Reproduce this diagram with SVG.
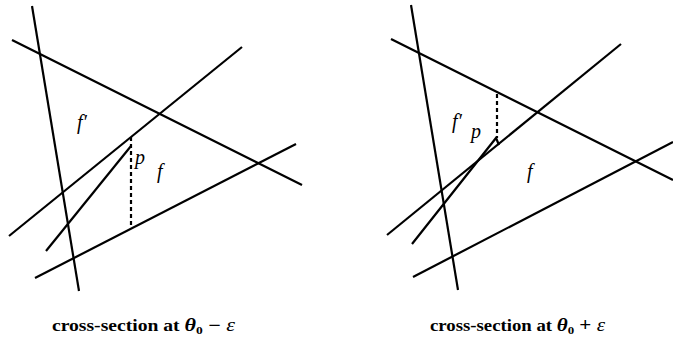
<svg xmlns="http://www.w3.org/2000/svg" width="673" height="345" viewBox="0 0 673 345">
<style>
.ln{stroke:#000;stroke-width:2.2;fill:none;stroke-linecap:butt}
.ds{stroke:#000;stroke-width:2.2;fill:none;stroke-dasharray:4 3}
.lb{font-family:"Liberation Serif",serif;font-style:italic;font-size:20px;fill:#000}
.cap{font-family:"Liberation Serif",serif;font-weight:bold;font-size:16px;fill:#000}
</style>
<rect width="673" height="345" fill="#fff"/>
<g id="connectors">
<g id="left-lines">
<line class="ln" x1="32" y1="6" x2="79" y2="291"/>
<line class="ln" x1="12" y1="40" x2="302" y2="185"/>
<line class="ln" x1="9" y1="236" x2="242" y2="47"/>
<line class="ln" x1="35" y1="278" x2="296" y2="144"/>
<line class="ln" x1="46" y1="251" x2="131" y2="146"/>
<line class="ds" x1="131" y1="137" x2="131" y2="228"/>
</g>
<g id="right-lines">
<line class="ln" x1="411" y1="5" x2="458" y2="290"/>
<line class="ln" x1="391" y1="39" x2="673" y2="180"/>
<line class="ln" x1="387" y1="235" x2="621" y2="44"/>
<line class="ln" x1="413" y1="277" x2="673" y2="142"/>
<polyline class="ln" points="412,244 496,138 499,145"/>
<line class="ds" x1="497" y1="94" x2="497" y2="138"/>
</g>
</g>
<g id="left-labels">
<text class="lb" x="77" y="129">f′</text>
<text class="lb" x="135" y="164">p</text>
<text class="lb" x="157" y="178">f</text>
</g>
<g id="right-labels">
<text class="lb" x="452" y="128">f′</text>
<text class="lb" x="471" y="138">p</text>
<text class="lb" x="527" y="178">f</text>
</g>
<g id="captions">
<text class="cap" x="52" y="331" textLength="183" lengthAdjust="spacingAndGlyphs">cross-section at <tspan font-style="italic" font-size="18">θ</tspan><tspan font-size="11" dy="3">0</tspan><tspan dy="-3" font-size="18"> − </tspan><tspan font-style="italic" font-weight="normal" font-size="18">ε</tspan></text>
<text class="cap" x="430" y="331" textLength="175" lengthAdjust="spacingAndGlyphs">cross-section at <tspan font-style="italic" font-size="18">θ</tspan><tspan font-size="11" dy="3">0</tspan><tspan dy="-3" font-size="18"> + </tspan><tspan font-style="italic" font-weight="normal" font-size="18">ε</tspan></text>
</g>
</svg>
